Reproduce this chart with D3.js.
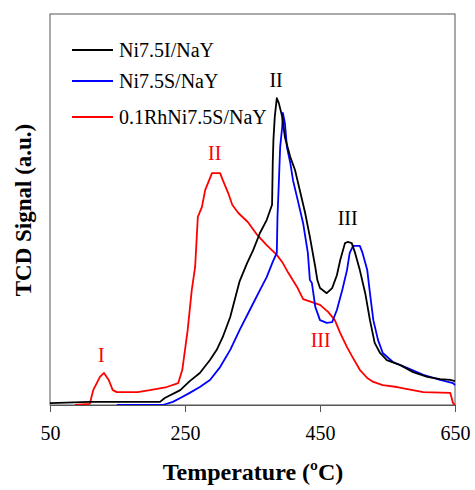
<!DOCTYPE html>
<html>
<head>
<meta charset="utf-8">
<script src="https://cdn.jsdelivr.net/npm/d3@7/dist/d3.min.js"></script>
<style>
  body { margin: 0; background: #fff; }
  svg text { font-family: "Liberation Serif", "Times New Roman", serif; }
</style>
</head>
<body>
<svg id="chart" width="475" height="490"></svg>
<script>
// data (temperature in ºC, signal in a.u. 0-100)
var seriesNames = ['Ni7.5I/NaY', 'Ni7.5S/NaY', '0.1RhNi7.5S/NaY'];
var seriesColors = ['#000000', '#0000ff', '#ff0000'];

var niIT = [50, 109, 213, 220, 243, 257, 272, 287, 297, 306, 317, 324, 331, 342, 351, 361, 371, 379, 380, 381, 383, 386, 389, 394, 398, 406, 413, 420, 428, 435, 443, 446, 450, 460, 468, 475, 480, 487, 491, 497, 502, 509, 517, 524, 531, 539, 549, 569, 588, 609, 628, 643, 650];
var niIS = [0.5, 0.8, 0.8, 1.8, 3.8, 6.1, 8.2, 11.5, 14.1, 17.4, 22.5, 27.1, 31.7, 36.3, 39.6, 44.0, 47.3, 51.2, 61.9, 67.8, 73.7, 78.5, 77.2, 73.7, 68.5, 63.4, 60.1, 55.0, 49.1, 43.0, 35.3, 32.0, 29.9, 28.6, 29.9, 33.2, 37.1, 41.4, 41.7, 41.4, 38.9, 34.5, 28.6, 21.7, 15.9, 13.3, 11.5, 10.2, 8.4, 7.2, 6.6, 6.4, 6.1];

var niST = [149, 217, 232, 243, 257, 272, 287, 302, 317, 331, 346, 361, 371, 380, 386, 387, 389, 391, 394, 395, 398, 401, 406, 410, 417, 425, 432, 435, 438, 443, 450, 460, 468, 475, 483, 490, 494, 499, 509, 513, 520, 524, 529, 536, 543, 558, 579, 603, 628, 647, 650];
var niSS = [0, 0, 0.8, 1.8, 3.1, 4.6, 6.4, 9.7, 14.1, 19.2, 24.3, 29.4, 32.7, 36.6, 38.9, 48.1, 56.8, 66.0, 71.1, 74.7, 72.1, 66.0, 61.9, 57.5, 52.4, 46.5, 38.9, 32.0, 31.2, 25.1, 21.7, 21.0, 21.2, 24.3, 29.4, 34.5, 38.9, 40.7, 40.7, 38.9, 34.5, 28.6, 21.7, 16.6, 13.3, 11.0, 9.5, 7.7, 6.4, 5.6, 5.1];

var rhT = [87, 109, 114, 124, 130, 137, 143, 149, 180, 198, 223, 240, 246, 250, 254, 260, 265, 269, 275, 280, 290, 302, 306, 314, 320, 329, 343, 357, 371, 386, 395, 403, 416, 425, 438, 450, 462, 472, 480, 490, 499, 509, 520, 529, 543, 564, 603, 643, 647, 650];
var rhS = [0, 0.3, 3.8, 7.2, 8.2, 6.4, 3.8, 3.3, 3.3, 3.8, 4.6, 5.6, 9.0, 14.1, 19.2, 29.4, 35.3, 48.1, 50.6, 55.0, 59.3, 59.3, 57.5, 54.2, 51.2, 49.1, 46.8, 43.5, 40.9, 38.4, 36.3, 33.8, 30.2, 27.1, 26.3, 25.6, 23.8, 21.7, 18.4, 14.8, 12.0, 9.0, 6.9, 5.9, 5.1, 4.6, 3.3, 3.1, 0.5, 0];

var xTicks = [50, 250, 450, 650];

// peak labels: text, temperature, signal, series index
var peakText = ['II', 'III', 'I', 'II', 'III'];
var peakT = [385, 491, 126, 294, 451];
var peakS = [81.3, 46.0, 11.0, 62.7, 14.8];
var peakSeries = [0, 0, 2, 2, 2];

var margin = { top: 14, right: 20, bottom: 85, left: 50 };
var width = 475 - margin.left - margin.right;
var height = 490 - margin.top - margin.bottom;

var svg = d3.select('#chart');
var g = svg.append('g')
  .attr('transform', 'translate(' + margin.left + ',' + margin.top + ')');

var x = d3.scaleLinear().domain([50, 650]).range([0, width]);
var y = d3.scaleLinear().domain([0, 100]).range([height, 0]);

var series = [
  { t: niIT, s: niIS },
  { t: niST, s: niSS },
  { t: rhT, s: rhS }
];

var line = d3.line()
  .x(function (d) { return x(d[0]); })
  .y(function (d) { return y(d[1]); });

// frame
g.append('rect')
  .attr('x', 0).attr('y', 0)
  .attr('width', width).attr('height', height)
  .attr('fill', 'none')
  .attr('stroke', '#555')
  .attr('stroke-width', 1);

// curves (red first so black and blue sit on top)
[2, 1, 0].forEach(function (i) {
  var pts = series[i].t.map(function (t, k) { return [t, series[i].s[k]]; });
  g.append('path')
    .datum(pts)
    .attr('d', line)
    .attr('fill', 'none')
    .attr('stroke', seriesColors[i])
    .attr('stroke-width', 1.8)
    .attr('stroke-linejoin', 'round');
});

// x axis
var xAxis = g.append('g')
  .attr('transform', 'translate(0,' + height + ')')
  .call(d3.axisBottom(x).tickValues(xTicks).tickSize(7).tickSizeOuter(0).tickPadding(14));
xAxis.select('.domain').attr('stroke', '#555');
xAxis.selectAll('.tick line').attr('stroke', '#555');
xAxis.selectAll('.tick text')
  .attr('font-family', '"Liberation Serif", serif')
  .attr('font-size', 20)
  .attr('fill', '#000');

// axis titles
svg.append('text')
  .attr('x', margin.left + width / 2 + 0.5)
  .attr('y', 480)
  .attr('text-anchor', 'middle')
  .attr('font-size', 24)
  .attr('font-weight', 'bold')
  .text('Temperature (ºC)');

svg.append('text')
  .attr('transform', 'translate(31,210) rotate(-90)')
  .attr('text-anchor', 'middle')
  .attr('font-size', 23)
  .attr('font-weight', 'bold')
  .text('TCD Signal (a.u.)');

// legend
var legendY = [50, 81, 117];
var legend = svg.append('g');
seriesNames.forEach(function (name, i) {
  legend.append('line')
    .attr('x1', 72).attr('x2', 113)
    .attr('y1', legendY[i]).attr('y2', legendY[i])
    .attr('stroke', seriesColors[i])
    .attr('stroke-width', 1.8);
  legend.append('text')
    .attr('x', 119)
    .attr('y', legendY[i] + 7)
    .attr('font-size', 20)
    .text(name);
});

// peak labels
peakText.forEach(function (txt, i) {
  g.append('text')
    .attr('x', x(peakT[i]))
    .attr('y', y(peakS[i]))
    .attr('text-anchor', 'middle')
    .attr('font-size', 20)
    .attr('fill', seriesColors[peakSeries[i]])
    .text(txt);
});
</script>
</body>
</html>
